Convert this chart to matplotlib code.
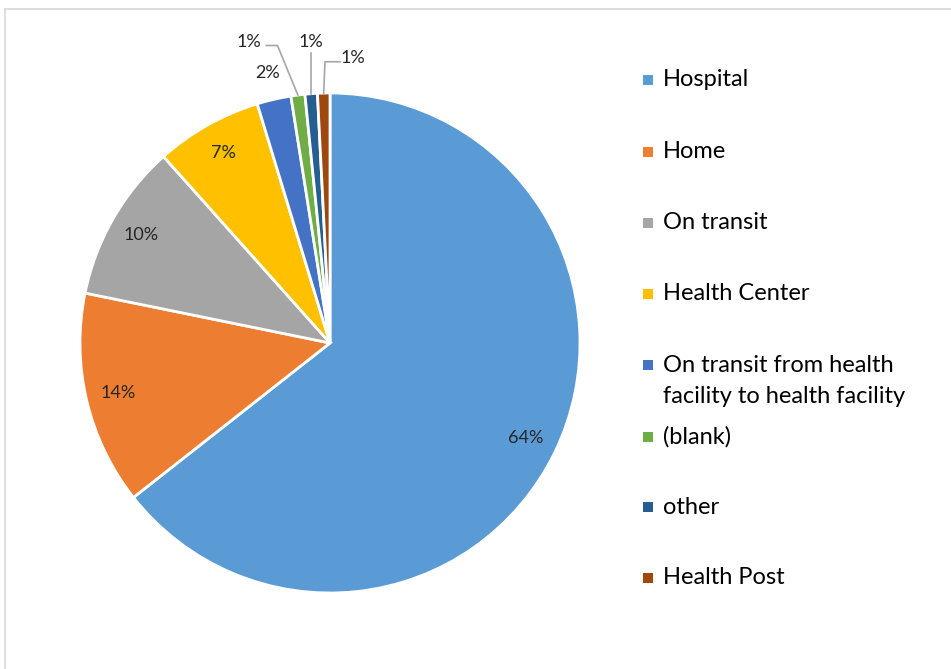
import numpy as np
import matplotlib.pyplot as plt
from matplotlib.patches import Rectangle
from matplotlib.lines import Line2D

# dados
places = ['Hospital', 'Home', 'On transit', 'Health Center',
          'On transit from health\nfacility to health facility',
          '(blank)', 'other', 'Health Post']
shares = [64.4, 13.8, 10.2, 6.9, 2.2, 0.9, 0.8, 0.8]
colors = ['#5B9BD5', '#ED7D31', '#A5A5A5', '#FFC000',
          '#4472C4', '#70AD47', '#255E91', '#9E480E']

plt.rcParams['font.family'] = ['Lato', 'DejaVu Sans']

W, H = 951, 669
fig = plt.figure(figsize=(W / 100, H / 100), dpi=100)

# moldura (cinza claro)
fig.add_artist(Line2D([5 / W, 1], [1 - 9 / H, 1 - 9 / H], color='#D9D9D9', lw=1.2))
fig.add_artist(Line2D([5 / W, 5 / W], [0, 1 - 9 / H], color='#D9D9D9', lw=1.2))

# pizza: centro (330, 343), raio 250 px
cx, cy, r = 330, 343, 250
ax = fig.add_axes([(cx - r) / W, (H - cy - r) / H, 2 * r / W, 2 * r / H])
wedges, _ = ax.pie(shares, colors=colors, startangle=90, counterclock=False,
                   wedgeprops=dict(edgecolor='white', linewidth=2))
ax.set_xlim(-1, 1)
ax.set_ylim(-1, 1)
ax.set_aspect('equal')
ax.axis('off')

total = sum(shares)
pcts = [f'{100 * s / total:.0f}%' for s in shares]
tc = '#262626'
fs = 13

def mid(w):
    a = np.deg2rad((w.theta1 + w.theta2) / 2)
    return np.cos(a), np.sin(a)

# rótulos internos
for w, p in zip(wedges[:4], pcts[:4]):
    x, y = mid(w)
    ax.text(0.87 * x, 0.87 * y, p, ha='center', va='center', fontsize=fs, color=tc)

# 2% fora da pizza
x, y = mid(wedges[4])
ax.text(1.11 * x, 1.11 * y, pcts[4], ha='center', va='center', fontsize=fs, color=tc)

# 1% com linhas de chamada
lc = '#A6A6A6'
x, y = mid(wedges[5])
ax.text(-0.325, 1.205, pcts[5], ha='center', va='center', fontsize=fs, color=tc)
ax.plot([-0.255, -0.21, x], [1.19, 1.19, y], color=lc, lw=1.2, clip_on=False)

x, y = mid(wedges[6])
ax.text(-0.075, 1.205, pcts[6], ha='center', va='center', fontsize=fs, color=tc)
ax.plot([x, x], [1.16, y], color=lc, lw=1.2, clip_on=False)

x, y = mid(wedges[7])
ax.text(0.09, 1.14, pcts[7], ha='center', va='center', fontsize=fs, color=tc)
ax.plot([0.04, x + 0.005, x], [1.125, 1.125, y], color=lc, lw=1.2, clip_on=False)

# legenda manual
leg_y = [80, 152, 223, 294, 365, 437, 507, 578]
for yy, name, c in zip(leg_y, places, colors):
    fig.add_artist(Rectangle((643 / W, 1 - (yy + 5) / H), 10 / W, 10 / H,
                             facecolor=c, edgecolor='none'))
    if '\n' in name:
        fig.text(663 / W, 1 - (yy - 10) / H, name, ha='left', va='top',
                 fontsize=17, color='#000000', linespacing=1.6)
    else:
        fig.text(663 / W, 1 - yy / H, name, ha='left', va='center',
                 fontsize=17, color='#000000')

fig.savefig('out.png', dpi=100)
